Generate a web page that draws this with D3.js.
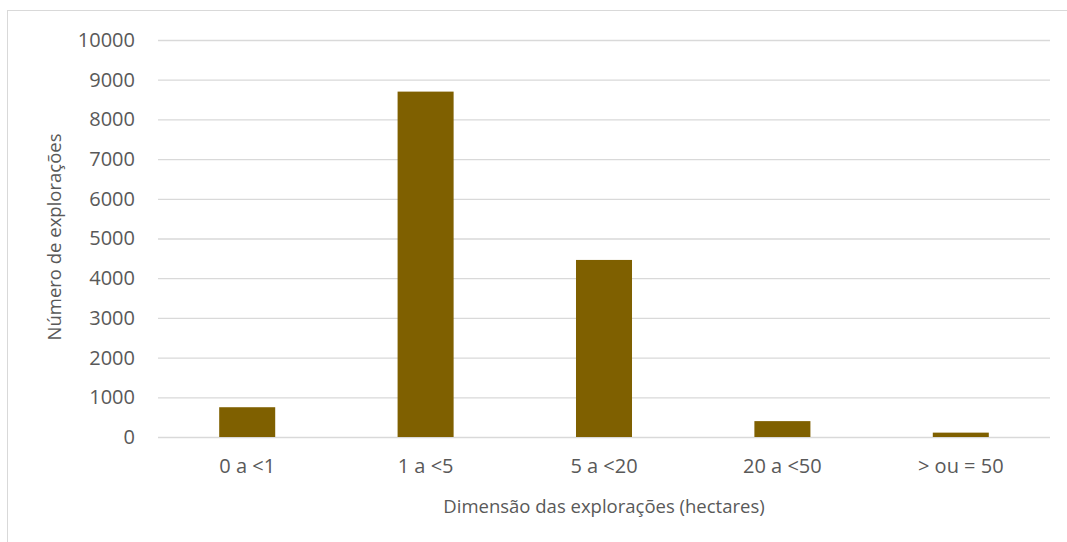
<!DOCTYPE html>
<html>
<head>
<meta charset="utf-8">
<script src="https://cdn.jsdelivr.net/npm/d3@7"></script>
<style>
  html, body { margin: 0; padding: 0; background: #fff; }
  svg { display: block; }
  text { font-family: "Open Sans", sans-serif; fill: #595959; }
</style>
</head>
<body>
<svg id="chart" width="1067" height="542"></svg>
<script>
// Número de explorações por classe de dimensão
const categories = ["0 a <1", "1 a <5", "5 a <20", "20 a <50", "> ou = 50"];
const values = [750, 8700, 4460, 400, 110];
const yTicks = [0, 1000, 2000, 3000, 4000, 5000, 6000, 7000, 8000, 9000, 10000];

const svg = d3.select("#chart");
const W = 1067, H = 542;
const plot = { left: 158, right: 1050, top: 40, bottom: 437 };

// chart area frame
svg.append("rect")
  .attr("x", 7.5).attr("y", 10.5)
  .attr("width", W + 10).attr("height", H + 10)
  .attr("fill", "#fff").attr("stroke", "#d9d9d9").attr("stroke-width", 1);

const x = d3.scaleBand()
  .domain(categories)
  .range([plot.left, plot.right])
  .paddingInner(0.686).paddingOuter(0.343);

const y = d3.scaleLinear().domain([0, 10000]).range([plot.bottom, plot.top]);

// horizontal gridlines + value labels
const yAxis = d3.axisLeft(y).tickValues(yTicks).tickFormat(d3.format("d"))
  .tickSize(-(plot.right - plot.left)).tickPadding(23);
const gy = svg.append("g").attr("transform", `translate(${plot.left},0)`).call(yAxis);
gy.select(".domain").remove();
gy.selectAll(".tick line").attr("stroke", "#d9d9d9").attr("stroke-width", 1.3);
gy.selectAll(".tick text").style("font-size", "20px").attr("fill", "#595959");

// bars
svg.append("g").selectAll("rect")
  .data(categories)
  .join("rect")
  .attr("x", d => x(d))
  .attr("width", x.bandwidth())
  .attr("y", (d, i) => y(values[i]))
  .attr("height", (d, i) => y(0) - y(values[i]))
  .attr("fill", "#7f6000");

// category labels
const xAxis = d3.axisBottom(x).tickSize(0).tickPadding(22);
const gx = svg.append("g").attr("transform", `translate(0,${plot.bottom})`).call(xAxis);
gx.select(".domain").remove();
gx.selectAll(".tick text").style("font-size", "20px").attr("fill", "#595959");

// axis titles
svg.append("text")
  .attr("x", (plot.left + plot.right) / 2)
  .attr("y", 513)
  .attr("text-anchor", "middle")
  .style("font-size", "18.5px")
  .text("Dimensão das explorações (hectares)");

svg.append("text")
  .attr("transform", `translate(61,237) rotate(-90)`)
  .attr("text-anchor", "middle")
  .style("font-size", "18.5px")
  .text("Número de explorações");
</script>
</body>
</html>
